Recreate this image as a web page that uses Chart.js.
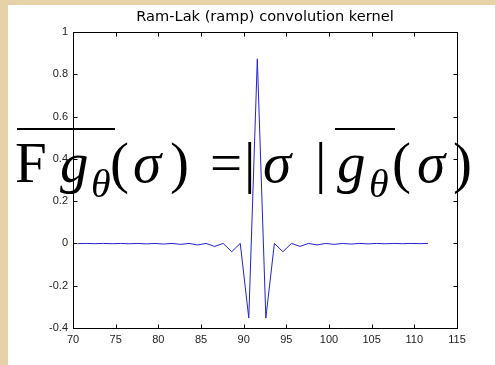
<!DOCTYPE html>
<html>
<head>
<meta charset="utf-8">
<script src="https://cdn.jsdelivr.net/npm/chart.js@4"></script>
<style>
  html, body { margin: 0; padding: 0; background: #e6cfa2; }
  #wrap { position: absolute; left: 0; top: 0; width: 495px; height: 365px; }
</style>
</head>
<body>
<div id="wrap"><canvas id="RamLakChart" width="495" height="365"></canvas></div>
<script>
// sample positions and kernel values
var kernel_x = [70.6, 71.6, 72.6, 73.6, 74.6, 75.6, 76.6, 77.6, 78.6, 79.6,
                80.6, 81.6, 82.6, 83.6, 84.6, 85.6, 86.6, 87.6, 88.6, 89.6,
                90.6, 91.6, 92.6, 93.6, 94.6, 95.6, 96.6, 97.6, 98.6, 99.6,
                100.6, 101.6, 102.6, 103.6, 104.6, 105.6, 106.6, 107.6, 108.6, 109.6,
                110.6, 111.6]
var kernel_y = [-0.0008, 0, -0.001, 0, -0.0012, 0, -0.0016, 0, -0.0021, 0,
                -0.0029, 0, -0.0044, 0, -0.0072, 0, -0.0141, 0, -0.0392, 0,
                -0.353, 0.873, -0.353, 0, -0.0392, 0, -0.0141, 0, -0.0072, 0,
                -0.0044, 0, -0.0029, 0, -0.0021, 0, -0.0016, 0, -0.0012, 0,
                -0.001, 0]
var x_ticks = [70, 75, 80, 85, 90, 95, 100, 105, 110, 115]
var y_ticks = [-0.4, -0.2, 0, 0.2, 0.4, 0.6, 0.8, 1]
var title_text = 'Ram-Lak (ramp) convolution kernel'

var points = []
kernel_x.forEach((x, i) => { points.push({x: x, y: kernel_y[i]}) })

// parchment + white figure
var backdrop = {
  id: 'backdrop',
  beforeDraw(chart) {
    var c = chart.ctx
    c.save()
    c.fillStyle = '#e7d1a6'
    c.fillRect(0, 0, chart.width, chart.height)
    c.fillStyle = '#ffffff'
    c.fillRect(8, 5, chart.width - 8, chart.height - 5)
    c.restore()
  }
}

// matlab style box with inward ticks
var axesBox = {
  id: 'axesBox',
  afterDatasetsDraw(chart) {
    var c = chart.ctx, a = chart.chartArea
    var L = Math.round(a.left) + 0.5, R = Math.round(a.right) + 0.5
    var T = Math.round(a.top) + 0.5, B = Math.round(a.bottom) + 0.5
    c.save()
    c.strokeStyle = '#000'
    c.lineWidth = 1
    c.strokeRect(L, T, R - L, B - T)
    c.beginPath()
    x_ticks.forEach(v => {
      var px = Math.round(chart.scales.x.getPixelForValue(v)) + 0.5
      c.moveTo(px, B); c.lineTo(px, B - 4)
      c.moveTo(px, T); c.lineTo(px, T + 4)
    })
    y_ticks.forEach(v => {
      var py = Math.round(chart.scales.y.getPixelForValue(v)) + 0.5
      c.moveTo(L, py); c.lineTo(L + 4, py)
      c.moveTo(R, py); c.lineTo(R - 4, py)
    })
    c.stroke()
    c.restore()
  }
}

// slide formula lying over the figure
var formula = {
  id: 'formula',
  afterDraw(chart) {
    var c = chart.ctx
    var big = '57px "Liberation Serif", "Times New Roman", serif'
    var bigI = 'italic 57px "Liberation Serif", "Times New Roman", serif'
    var sub = 'italic 40px "Liberation Serif", "Times New Roman", serif'
    var base = 182, subBase = 197
    var parts = [
      ['F', 15, base, big],
      ['g', 60, base, bigI],
      ['\u03b8', 91, subBase, sub],
      ['(', 110, base, big],
      ['\u03c3', 133, base, bigI],
      [')', 170, base, big],
      ['=', 210, base, big],
      ['|', 244, base, big],
      ['\u03c3', 263, base, bigI],
      ['|', 315, base, big],
      ['g', 337, base, bigI],
      ['\u03b8', 369, subBase, sub],
      ['(', 392, base, big],
      ['\u03c3', 417, base, bigI],
      [')', 453, base, big]
    ]
    c.save()
    c.fillStyle = '#000'
    c.textAlign = 'left'
    c.textBaseline = 'alphabetic'
    parts.forEach(p => { c.font = p[3]; c.fillText(p[0], p[1], p[2]) })
    c.fillRect(17, 128, 98, 2)
    c.fillRect(335, 128, 60, 2)
    c.restore()
  }
}

var ctx = document.getElementById('RamLakChart')
var myChart = new Chart(ctx, {
  type: 'line',
  data: {
    datasets: [{
      data: points,
      borderColor: '#2323cf',
      borderWidth: 1,
      pointRadius: 0,
      tension: 0,
      fill: false
    }]
  },
  options: {
    responsive: false,
    animation: false,
    events: [],
    layout: {padding: {left: 0, right: 38, top: 0, bottom: 0}},
    plugins: {
      legend: {display: false},
      tooltip: {enabled: false},
      title: {
        display: true,
        text: title_text,
        fullSize: false,
        color: '#000',
        font: {family: '"DejaVu Sans", Arial, sans-serif', size: 14.6, weight: 'normal', lineHeight: 1.2},
        padding: {top: 8.5, bottom: 6}
      }
    },
    scales: {
      x: {
        type: 'linear',
        min: 70, max: 115,
        grid: {display: false, drawTicks: false},
        border: {display: false},
        afterBuildTicks: s => { s.ticks = x_ticks.map(v => ({value: v})) },
        afterFit: s => { s.height = 37 },
        ticks: {
          color: '#222', padding: 5, maxRotation: 0, autoSkip: false,
          font: {family: '"Liberation Sans", Arial, sans-serif', size: 11}
        }
      },
      y: {
        min: -0.4, max: 1,
        grid: {display: false, drawTicks: false},
        border: {display: false},
        afterBuildTicks: s => { s.ticks = y_ticks.map(v => ({value: v})) },
        afterFit: s => { s.width = 73 },
        ticks: {
          color: '#222', padding: 5, autoSkip: false,
          font: {family: '"Liberation Sans", Arial, sans-serif', size: 11},
          callback: v => String(Math.round(v * 10) / 10)
        }
      }
    }
  },
  plugins: [backdrop, axesBox, formula]
})
</script>
</body>
</html>
